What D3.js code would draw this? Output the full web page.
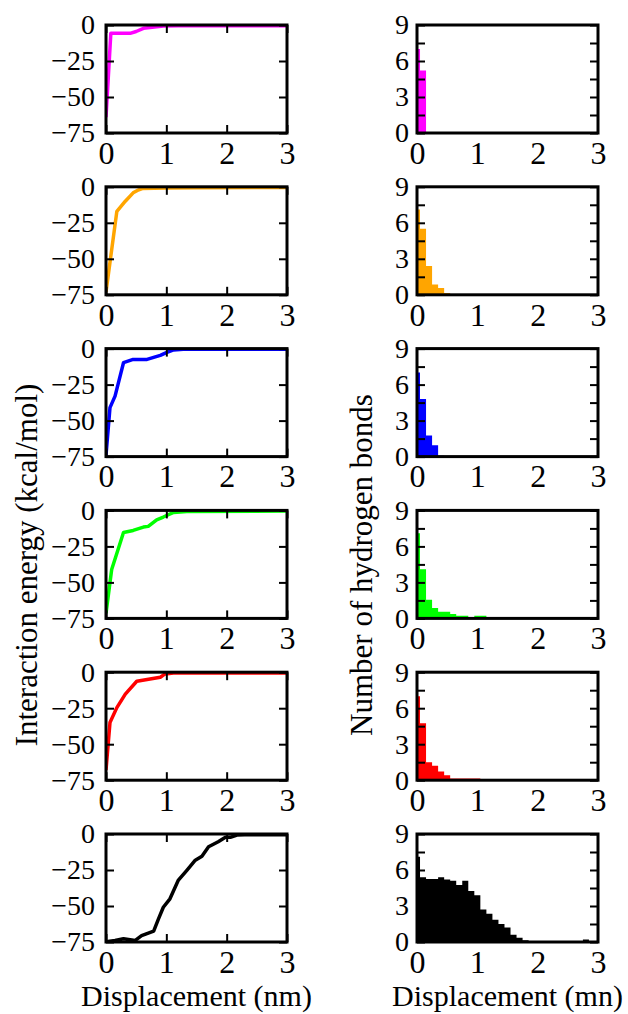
<!DOCTYPE html>
<html>
<head>
<meta charset="utf-8">
<script src="https://cdn.jsdelivr.net/npm/d3@7"></script>
<style>
  html, body { margin: 0; padding: 0; background: #fff; }
  svg { display: block; }
  svg text { font-family: "Liberation Serif", "Times New Roman", "DejaVu Serif", serif !important; }
</style>
</head>
<body>
<svg id="chart" width="628" height="1014"></svg>
<script>
// ---------------- DATA ----------------
const seriesColors = ["#ff00ff", "#ffa500", "#0000ff", "#00ff00", "#ff0000", "#000000"];

const xTicks = [0, 1, 2, 3];
const energyTicks = [0, -25, -50, -75];
const hbondTicks = [0, 3, 6, 9];
const hbondAllTicks = [0, 1.5, 3, 4.5, 6, 7.5, 9];

// Interaction energy curves: [displacement (nm), energy (kcal/mol)]
const energyMagenta = [[0,-64],[0.08,-5.8],[0.4,-5.8],[0.5,-4.5],[0.62,-2.3],[0.95,-0.7],[1.2,-0.5],[3,-0.5]];
const energyOrange  = [[0,-73],[0.18,-17],[0.32,-10],[0.45,-4.2],[0.52,-2.5],[0.6,-1.2],[1.0,-0.8],[1.5,-0.6],[3,-0.5]];
const energyBlue    = [[0,-74],[0.066,-41],[0.15,-33],[0.29,-9.8],[0.45,-7.5],[0.68,-7.5],[0.9,-4.7],[1.0,-2.8],[1.12,-0.9],[1.28,-0.5],[3,-0.5]];
const energyGreen   = [[0,-71.5],[0.094,-41],[0.29,-15.3],[0.45,-13.9],[0.62,-11.6],[0.70,-11.1],[0.84,-6.5],[0.95,-4.6],[1.12,-1.4],[1.34,-0.7],[3,-0.5]];
const energyRed     = [[0,-68],[0.066,-35],[0.18,-24.6],[0.32,-15.2],[0.51,-6.3],[0.73,-4.7],[0.9,-3.5],[0.98,-1.2],[1.12,-0.5],[3,-0.5]];
const energyBlack   = [[0,-74.8],[0.15,-74],[0.29,-72.7],[0.4,-73.4],[0.48,-74],[0.59,-70.6],[0.79,-67.5],[0.87,-58.9],[0.95,-50.9],[1.06,-45],[1.2,-32],[1.34,-25.2],[1.48,-18.2],[1.59,-15.4],[1.7,-8.9],[1.86,-5.4],[1.98,-2.3],[2.06,-2.3],[2.17,-0.7],[2.3,-0.5],[3,-0.5]];

// Hydrogen-bond histograms: counts per bin, bins centred at 0, 0.1, 0.2, ... nm
const binWidth = 0.1;
const histMagenta = [7.0, 5.2];
const histOrange  = [7.1, 5.5, 2.4, 0.86, 0.56, 0.14];
const histBlue    = [7.0, 4.8, 1.75, 0.95, 0.08];
const histGreen   = [7.1, 4.1, 1.55, 0.87, 0.56, 0.56, 0.37, 0.22, 0.22, 0.08, 0.22, 0.22];
const histRed     = [7.0, 4.75, 1.5, 1.2, 0.73, 0.42, 0.14, 0.14, 0.14, 0.14, 0.14];
const histBlack   = [7.1, 5.4, 5.25, 5.25, 5.4, 5.2, 5.1, 4.75, 5.1, 4.25, 3.9, 2.7, 2.35, 1.85, 1.5, 1.2, 0.6, 0.35, 0.15,
                     0.05, 0.05, 0.05, 0.05, 0.05, 0.05, 0.05, 0.05, 0.05, 0.2, 0];

const energySeries = [energyMagenta, energyOrange, energyBlue, energyGreen, energyRed, energyBlack];
const histSeries = [histMagenta, histOrange, histBlue, histGreen, histRed, histBlack];

const leftYLabel = "Interaction energy (kcal/mol)";
const rightYLabel = "Number of hydrogen bonds";
const leftXLabel = "Displacement (nm)";
const rightXLabel = "Displacement (mn)";

// ---------------- LAYOUT ----------------
const FONT = "Liberation Serif, Times New Roman, DejaVu Serif, serif";
const svg = d3.select("#chart");
const leftX0 = 106, rightX0 = 417, panelW = 181, panelH = 108;
const top0 = 25, rowStep = 161.8;

const xScaleL = d3.scaleLinear().domain([0, 3]).range([0, panelW]);
const yScaleL = d3.scaleLinear().domain([-75, 0]).range([panelH, 0]);
const xScaleR = d3.scaleLinear().domain([0, 3]).range([0, panelW]);
const yScaleR = d3.scaleLinear().domain([0, 9]).range([panelH, 0]);

function styleAxis(g, size) {
  g.attr("font-family", FONT).attr("font-size", size);
  g.select(".domain").remove();
  g.selectAll(".tick line").attr("stroke", "#000").attr("stroke-width", 2);
  g.selectAll(".tick text").attr("fill", "#000");
}

seriesColors.forEach((color, i) => {
  const ty = top0 + i * rowStep;

  // ----- left panel: energy curve -----
  const gl = svg.append("g").attr("transform", `translate(${leftX0},${ty})`);
  gl.append("clipPath").attr("id", "clipL" + i)
    .append("rect").attr("width", panelW).attr("height", panelH);
  const line = d3.line().x(d => xScaleL(d[0])).y(d => yScaleL(d[1]));
  gl.append("path")
    .attr("clip-path", `url(#clipL${i})`)
    .attr("d", line(energySeries[i]))
    .attr("fill", "none").attr("stroke", color)
    .attr("stroke-width", 3.5).attr("stroke-linejoin", "round");

  gl.append("g").attr("transform", `translate(0,${panelH})`)
    .call(d3.axisBottom(xScaleL).tickValues(xTicks).tickSizeInner(-8).tickSizeOuter(0).tickPadding(8).tickFormat(d3.format("d")))
    .call(g => styleAxis(g, 32));
  gl.append("g")
    .call(d3.axisTop(xScaleL).tickValues(xTicks).tickSizeInner(-8).tickSizeOuter(0).tickFormat(""))
    .call(g => styleAxis(g, 10));
  gl.append("g")
    .call(d3.axisLeft(yScaleL).tickValues(energyTicks).tickSizeInner(-8).tickSizeOuter(0).tickPadding(11).tickFormat(d3.format("d")))
    .call(g => styleAxis(g, 28));
  gl.append("g").attr("transform", `translate(${panelW},0)`)
    .call(d3.axisRight(yScaleL).tickValues(energyTicks).tickSizeInner(-8).tickSizeOuter(0).tickFormat(""))
    .call(g => styleAxis(g, 10));
  gl.append("rect").attr("width", panelW).attr("height", panelH)
    .attr("fill", "none").attr("stroke", "#000").attr("stroke-width", 3);

  // ----- right panel: histogram -----
  const gr = svg.append("g").attr("transform", `translate(${rightX0},${ty})`);
  gr.append("clipPath").attr("id", "clipR" + i)
    .append("rect").attr("width", panelW).attr("height", panelH);
  const pts = [];
  histSeries[i].forEach((v, k) => {
    const c = k * binWidth;
    pts.push([Math.max(0, c - binWidth / 2), v]);
    pts.push([c + binWidth / 2, v]);
  });
  const area = d3.area().x(d => xScaleR(d[0])).y0(yScaleR(0)).y1(d => yScaleR(d[1]));
  gr.append("path")
    .attr("clip-path", `url(#clipR${i})`)
    .attr("d", area(pts))
    .attr("fill", color).attr("stroke", "none");

  gr.append("g").attr("transform", `translate(0,${panelH})`)
    .call(d3.axisBottom(xScaleR).tickValues(xTicks).tickSizeInner(0).tickSizeOuter(0).tickPadding(8).tickFormat(d3.format("d")))
    .call(g => styleAxis(g, 32));
  gr.append("g")
    .call(d3.axisLeft(yScaleR).tickValues(hbondAllTicks).tickSizeInner(-8).tickSizeOuter(0).tickPadding(8)
      .tickFormat(d => hbondTicks.includes(d) ? d3.format("d")(d) : ""))
    .call(g => styleAxis(g, 28));
  gr.append("g").attr("transform", `translate(${panelW},0)`)
    .call(d3.axisRight(yScaleR).tickValues(hbondAllTicks).tickSizeInner(-8).tickSizeOuter(0).tickFormat(""))
    .call(g => styleAxis(g, 10));
  gr.append("rect").attr("width", panelW).attr("height", panelH)
    .attr("fill", "none").attr("stroke", "#000").attr("stroke-width", 3);
});

// ----- axis titles -----
svg.append("text")
  .attr("transform", "translate(37,565) rotate(-90)")
  .attr("text-anchor", "middle")
  .attr("font-family", FONT).attr("font-size", 31).attr("fill", "#000")
  .text(leftYLabel);
svg.append("text")
  .attr("transform", "translate(372,565) rotate(-90)")
  .attr("text-anchor", "middle")
  .attr("font-family", FONT).attr("font-size", 31).attr("fill", "#000")
  .text(rightYLabel);
svg.append("text")
  .attr("x", leftX0 + panelW / 2).attr("y", 1006)
  .attr("text-anchor", "middle")
  .attr("font-family", FONT).attr("font-size", 30).attr("fill", "#000")
  .text(leftXLabel);
svg.append("text")
  .attr("x", rightX0 + panelW / 2).attr("y", 1006)
  .attr("text-anchor", "middle")
  .attr("font-family", FONT).attr("font-size", 30).attr("fill", "#000")
  .text(rightXLabel);
</script>
</body>
</html>
